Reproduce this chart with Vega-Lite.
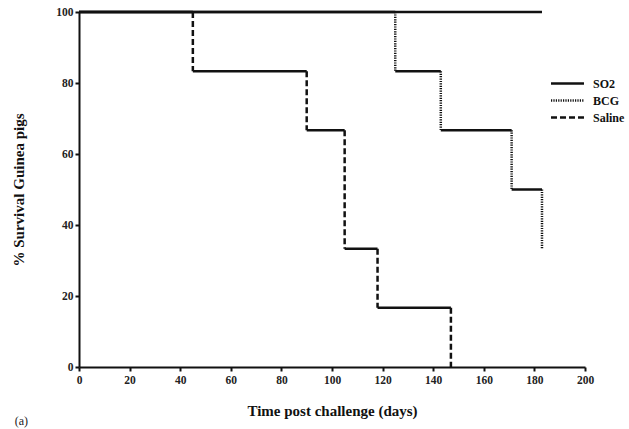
{
  "$schema": "https://vega.github.io/schema/vega-lite/v6.json",
  "width": 506,
  "height": 355,
  "autosize": {"type": "none"},
  "padding": {"left": 79, "top": 12, "right": 44, "bottom": 62},
  "background": "white",
  "title": {"text": "(a)", "orient": "bottom", "anchor": "start", "frame": "bounds", "font": "Liberation Serif", "fontSize": 12, "fontWeight": "normal", "color": "#222", "offset": -3, "dx": 3},
  "config": {
    "view": {"stroke": null},
    "axis": {
      "domainColor": "#111", "domainWidth": 2, "tickColor": "#111", "tickWidth": 2, "tickSize": 4,
      "labelFont": "Liberation Serif", "labelFontWeight": "bold", "labelFontSize": 11.5, "labelColor": "#222", "labelFlush": false,
      "titleFont": "Liberation Serif", "titleFontWeight": "bold", "titleFontSize": 15, "titleColor": "#111",
      "grid": false
    }
  },
  "data": {"values": [
    {"group": "SO2", "kind": "h", "x": 0, "x2": 183, "y": 100, "y2": 100},
    {"group": "BCG", "kind": "h", "x": 0, "x2": 125, "y": 100, "y2": 100},
    {"group": "BCG", "kind": "v", "x": 125, "x2": 125, "y": 100, "y2": 83.3},
    {"group": "BCG", "kind": "h", "x": 125, "x2": 143, "y": 83.3, "y2": 83.3},
    {"group": "BCG", "kind": "v", "x": 143, "x2": 143, "y": 83.3, "y2": 66.7},
    {"group": "BCG", "kind": "h", "x": 143, "x2": 171, "y": 66.7, "y2": 66.7},
    {"group": "BCG", "kind": "v", "x": 171, "x2": 171, "y": 66.7, "y2": 50},
    {"group": "BCG", "kind": "h", "x": 171, "x2": 183, "y": 50, "y2": 50},
    {"group": "BCG", "kind": "v", "x": 183, "x2": 183, "y": 50, "y2": 33.3},
    {"group": "Saline", "kind": "h", "x": 0, "x2": 45, "y": 100, "y2": 100},
    {"group": "Saline", "kind": "v", "x": 45, "x2": 45, "y": 100, "y2": 83.3},
    {"group": "Saline", "kind": "h", "x": 45, "x2": 90, "y": 83.3, "y2": 83.3},
    {"group": "Saline", "kind": "v", "x": 90, "x2": 90, "y": 83.3, "y2": 66.7},
    {"group": "Saline", "kind": "h", "x": 90, "x2": 105, "y": 66.7, "y2": 66.7},
    {"group": "Saline", "kind": "v", "x": 105, "x2": 105, "y": 66.7, "y2": 33.3},
    {"group": "Saline", "kind": "h", "x": 105, "x2": 118, "y": 33.3, "y2": 33.3},
    {"group": "Saline", "kind": "v", "x": 118, "x2": 118, "y": 33.3, "y2": 16.7},
    {"group": "Saline", "kind": "h", "x": 118, "x2": 147, "y": 16.7, "y2": 16.7},
    {"group": "Saline", "kind": "v", "x": 147, "x2": 147, "y": 16.7, "y2": 0}
  ]},
  "layer": [
    {
      "transform": [{"filter": "datum.kind === 'h'"}],
      "mark": {"type": "rule", "color": "#111", "strokeWidth": 2.5},
      "encoding": {
        "x": {"field": "x", "type": "quantitative", "scale": {"domain": [0, 200], "nice": false}, "axis": {"values": [0,20,40,60,80,100,120,140,160,180,200], "title": "Time post challenge (days)", "titlePadding": 18, "labelPadding": 3}},
        "x2": {"field": "x2"},
        "y": {"field": "y", "type": "quantitative", "scale": {"domain": [0, 100], "nice": false}, "axis": {"values": [0,20,40,60,80,100], "title": "% Survival Guinea pigs", "titlePadding": 29, "labelPadding": 2}},
        "y2": {"field": "y2"}
      }
    },
    {
      "transform": [{"filter": "datum.kind === 'v'"}],
      "mark": {"type": "rule", "color": "#111", "strokeWidth": 2.5},
      "encoding": {
        "x": {"field": "x", "type": "quantitative"},
        "x2": {"field": "x2"},
        "y": {"field": "y", "type": "quantitative"},
        "y2": {"field": "y2"},
        "strokeDash": {
          "field": "group", "type": "nominal",
          "scale": {"domain": ["SO2", "BCG", "Saline"], "range": [[1, 0], [1.2, 1.2], [6, 3]]},
          "legend": {
            "title": null, "orient": "none", "legendX": 479, "legendY": 62,
            "symbolType": "M-2,0H2", "symbolSize": 272, "symbolStrokeWidth": 2.5, "symbolStrokeColor": "#111", "symbolFillColor": "transparent",
            "labelFont": "Liberation Serif", "labelFontWeight": "bold", "labelFontSize": 12, "labelColor": "#111",
            "rowPadding": 1, "labelOffset": 16
          }
        }
      }
    }
  ]
}
